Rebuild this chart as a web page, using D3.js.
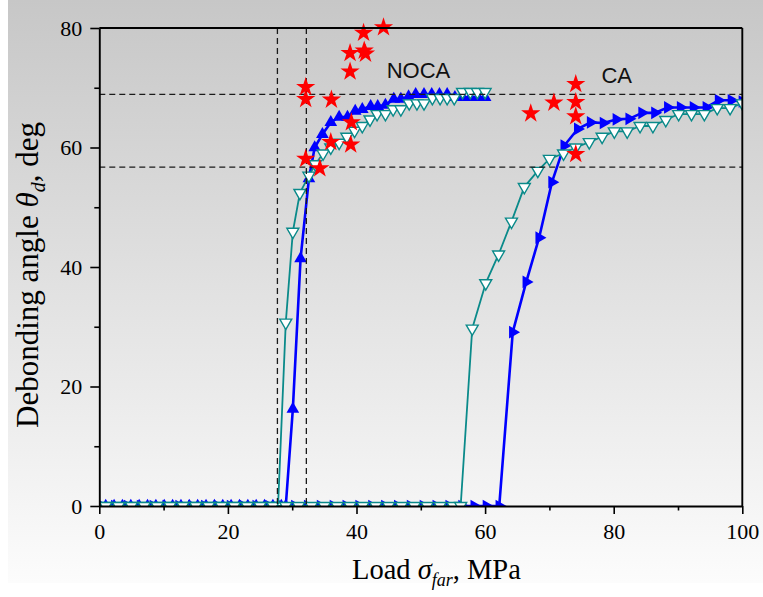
<!DOCTYPE html>
<html>
<head>
<meta charset="utf-8">
<script src="https://cdn.jsdelivr.net/npm/d3@7"></script>
<style>
  html, body { margin: 0; padding: 0; background: #ffffff; }
  svg { display: block; }
</style>
</head>
<body>
<svg id="chart" width="763" height="597"></svg>
<script>
// ---- Axis ticks ----
const xTicks = [0, 20, 40, 60, 80, 100];
const xMinorTicks = [10, 30, 50, 70, 90];
const yTicks = [0, 20, 40, 60, 80];
const yMinorTicks = [10, 30, 50, 70];

// ---- NOCA: blue curve, filled up-triangles ----
const nocaBlueX = [1.0, 2.3, 3.6, 4.9, 6.2, 7.5, 8.8, 10.1, 11.4, 12.7, 14.0, 15.3, 16.6, 17.9, 19.2, 20.5, 21.8, 23.1, 24.4, 25.7, 27.0, 28.3, 29.0,
  30.1, 31.3, 32.6, 33.5, 34.7, 36.0, 37.3, 38.6, 39.8, 40.9, 42.2, 43.3, 44.5, 45.8, 46.9, 48.1, 49.2, 50.5, 51.7, 52.9, 54.1, 55.3, 56.5, 57.7, 58.9, 60.0];
const nocaBlueY = [0, 0, 0, 0, 0, 0, 0, 0, 0, 0, 0, 0, 0, 0, 0, 0, 0, 0, 0, 0, 0, 0, 0,
  16.2, 41.4, 54.8, 60.0, 62.2, 64.2, 65.1, 65.1, 66.1, 66.4, 66.9, 66.9, 67.1, 68.1, 68.1, 68.5, 68.9, 68.9, 68.9, 68.9, 68.9, 68.4, 68.4, 68.4, 68.4, 68.4];

// ---- NOCA: teal curve, open down-triangles ----
const nocaTealX = [1, 3, 5, 7, 9, 11, 13, 15, 17, 19, 21, 23, 25, 27, 27.8,
  29.0, 30.1, 31.2, 32.6, 33.6, 34.8, 36.0, 37.3, 38.5, 39.7, 40.9, 42.1, 43.2, 44.5, 45.7, 46.9, 48.2, 49.4, 50.5, 51.8, 53.0, 54.1, 55.2, 56.5, 57.7, 58.8, 60.0];
const nocaTealY = [0, 0, 0, 0, 0, 0, 0, 0, 0, 0, 0, 0, 0, 0, 0,
  30.7, 45.9, 52.4, 55.3, 57.2, 59.0, 60.0, 60.8, 61.8, 62.8, 63.6, 64.7, 65.6, 65.6, 66.4, 66.4, 67.4, 67.4, 67.4, 68.3, 68.3, 68.3, 68.3, 69.3, 69.3, 69.3, 69.3];

// ---- CA: blue curve, filled right-triangles ----
const caBlueX = [0.4, 2.4, 4.4, 6.4, 8.4, 10.4, 12.4, 14.4, 16.4, 18.4, 20.4, 22.4, 24.4, 26.4, 28.4, 30.4, 32.4, 34.4, 36.4, 38.4, 40.4, 42.4, 44.4, 46.4, 48.4, 50.4, 52.4, 54.4, 56.4, 58.3, 60.2, 62.2,
  64.3, 66.4, 68.4, 70.4, 72.3, 74.4, 76.4, 78.4, 80.4, 82.4, 84.4, 86.4, 88.4, 90.4, 92.4, 94.4, 96.3, 98.3, 100.0];
const caBlueY = [0, 0, 0, 0, 0, 0, 0, 0, 0, 0, 0, 0, 0, 0, 0, 0, 0, 0, 0, 0, 0, 0, 0, 0, 0, 0, 0, 0, 0, 0, 0, 0,
  29.1, 37.5, 44.9, 54.2, 60.3, 63.1, 64.2, 64.1, 64.7, 64.8, 65.8, 65.8, 66.7, 66.7, 66.7, 66.7, 67.9, 67.9, 67.7];

// ---- CA: teal curve, open down-triangles ----
const caTealX = [1, 3, 5, 7, 9, 11, 13, 15, 17, 19, 21, 23, 25, 27, 29, 31, 33, 35, 37, 39, 41, 43, 45, 47, 49, 51, 53, 55, 56.2,
  58.0, 60.1, 62.1, 64.1, 66.1, 68.2, 70.0, 72.2, 74.1, 76.2, 78.2, 80.1, 82.1, 84.1, 86.1, 88.1, 90.1, 92.1, 94.1, 96.1, 98.1, 100.0];
const caTealY = [0, 0, 0, 0, 0, 0, 0, 0, 0, 0, 0, 0, 0, 0, 0, 0, 0, 0, 0, 0, 0, 0, 0, 0, 0, 0, 0, 0, 0,
  29.7, 37.3, 42.1, 47.6, 53.4, 56.1, 58.1, 59.0, 60.0, 60.9, 61.8, 62.7, 62.7, 63.6, 63.6, 64.6, 65.6, 65.6, 65.6, 66.6, 66.6, 67.4];

// ---- Experimental points (stars) ----
const expNocaX = [32.1, 32.1, 36.1, 32.1, 34.3, 36.0, 39.1, 39.2, 39.0, 39.0, 41.1, 41.2, 41.4, 44.2];
const expNocaY = [70.1, 68.1, 68.0, 58.1, 56.5, 60.9, 60.5, 64.2, 72.7, 75.8, 79.2, 76.2, 75.7, 80.1];
const expCaX = [67.1, 70.7, 74.1, 74.1, 74.1, 74.1];
const expCaY = [65.7, 67.5, 70.6, 67.6, 65.2, 58.9];

// ---- Reference levels (dashed) ----
const refLoads = [27.7, 32.2];
const refAngles = [68.9, 56.7];

// ---- Curve labels ----
const curveLabels = ["NOCA", "CA"];
const curveLabelX = [44.7, 78.1];
const curveLabelY = [71.6, 70.8];

// ---------------------------------------------------------------
const W = 763, H = 597;
const margin = { left: 99.3, top: 28, right: W - 742.3, bottom: H - 506 };
const iw = W - margin.left - margin.right;
const ih = H - margin.top - margin.bottom;

const svg = d3.select("#chart");
const defs = svg.append("defs");

// page background: grey at the top fading to near white
const grad = defs.append("linearGradient").attr("id", "bg").attr("x1", 0).attr("y1", 0).attr("x2", 0).attr("y2", 1);
grad.append("stop").attr("offset", "0%").attr("stop-color", "#c7c7c7");
grad.append("stop").attr("offset", "100%").attr("stop-color", "#fcfcfc");
svg.append("rect").attr("x", 8).attr("y", 0).attr("width", W - 8).attr("height", 583).attr("fill", "url(#bg)");

defs.append("clipPath").attr("id", "plotClip")
  .append("rect").attr("x", 0).attr("y", 0).attr("width", iw).attr("height", ih);

const x = d3.scaleLinear().domain([0, 100]).range([0, iw]);
const y = d3.scaleLinear().domain([0, 80]).range([ih, 0]);

const g = svg.append("g").attr("transform", `translate(${margin.left},${margin.top})`);

const zip = (xs, ys) => xs.map((v, i) => [v, ys[i]]);
const line = d3.line().x(d => x(d[0])).y(d => y(d[1]));

const plot = g.append("g").attr("clip-path", "url(#plotClip)");

function drawSeries(xs, ys, opts) {
  const data = zip(xs, ys);
  plot.append("path").datum(data)
    .attr("fill", "none").attr("stroke", opts.color).attr("stroke-width", opts.width)
    .attr("stroke-linejoin", "round").attr("d", line);
  plot.append("g").selectAll("path").data(data).join("path")
    .attr("d", d3.symbol(d3.symbolTriangle, opts.size)())
    .attr("transform", d => `translate(${x(d[0])},${y(d[1])}) rotate(${opts.rotate})`)
    .attr("fill", opts.fill).attr("stroke", opts.stroke).attr("stroke-width", opts.strokeWidth);
}

const BLUE = "#0000ff", TEAL = "#0a8a8a";

drawSeries(nocaBlueX, nocaBlueY, { color: BLUE, width: 2.6, size: 70, rotate: 0, fill: BLUE, stroke: "none", strokeWidth: 0 });
drawSeries(caBlueX, caBlueY, { color: BLUE, width: 2.6, size: 70, rotate: 90, fill: BLUE, stroke: "none", strokeWidth: 0 });
drawSeries(nocaTealX, nocaTealY, { color: TEAL, width: 1.8, size: 62, rotate: 180, fill: "#ffffff", stroke: TEAL, strokeWidth: 1.4 });
drawSeries(caTealX, caTealY, { color: TEAL, width: 1.8, size: 62, rotate: 180, fill: "#ffffff", stroke: TEAL, strokeWidth: 1.4 });

// dashed reference lines
const dash = g.append("g").attr("stroke", "#1a1a1a").attr("stroke-width", 1.3).attr("stroke-dasharray", "6,4");
dash.selectAll("line.v").data(refLoads).join("line").attr("class", "v")
  .attr("x1", d => x(d)).attr("x2", d => x(d)).attr("y1", y(80)).attr("y2", y(0));
dash.selectAll("line.h").data(refAngles).join("line").attr("class", "h")
  .attr("x1", x(0)).attr("x2", x(100)).attr("y1", d => y(d)).attr("y2", d => y(d));

// experimental stars
const star = d3.symbol(d3.symbolStar, 115)();
g.append("g").selectAll("path").data(zip(expNocaX, expNocaY).concat(zip(expCaX, expCaY))).join("path")
  .attr("d", star).attr("fill", "#ff0000")
  .attr("transform", d => `translate(${x(d[0])},${y(d[1])})`);

// curve labels
g.append("g").selectAll("text").data(curveLabels).join("text")
  .attr("x", (d, i) => x(curveLabelX[i])).attr("y", (d, i) => y(curveLabelY[i]))
  .attr("font-family", "'Liberation Sans', Arial, sans-serif").attr("font-size", 22)
  .attr("fill", "#111").text(d => d);

// ---- Axes ----
const tickFont = "'Liberation Serif', 'Times New Roman', serif";
g.append("g").attr("transform", `translate(0,${ih})`)
  .call(d3.axisBottom(x).tickValues(xTicks).tickSize(8).tickSizeOuter(0).tickPadding(9).tickFormat(d3.format("d")));
g.append("g").attr("transform", `translate(0,${ih})`)
  .call(d3.axisBottom(x).tickValues(xMinorTicks).tickSize(4.5).tickSizeOuter(0).tickFormat(""))
  .call(s => s.select(".domain").remove());
g.append("g")
  .call(d3.axisLeft(y).tickValues(yTicks).tickSize(9).tickSizeOuter(0).tickPadding(8).tickFormat(d3.format("d")));
g.append("g")
  .call(d3.axisLeft(y).tickValues(yMinorTicks).tickSize(5).tickSizeOuter(0).tickFormat(""))
  .call(s => s.select(".domain").remove());

g.selectAll(".tick line").attr("stroke", "#000").attr("stroke-width", 1.6);
g.selectAll(".domain").attr("stroke", "#000").attr("stroke-width", 1.9);
g.selectAll(".tick text").attr("font-family", tickFont).attr("font-size", 22).attr("fill", "#000");

// frame top and right
g.append("line").attr("x1", 0).attr("x2", iw).attr("y1", 0).attr("y2", 0).attr("stroke", "#000").attr("stroke-width", 1.9);
g.append("line").attr("x1", iw).attr("x2", iw).attr("y1", 0).attr("y2", ih).attr("stroke", "#000").attr("stroke-width", 1.9);

// ---- Axis titles ----
const xt = svg.append("text").attr("x", 352).attr("y", 579)
  .attr("font-family", tickFont).attr("font-size", 28.5).attr("fill", "#000");
xt.append("tspan").text("Load ");
xt.append("tspan").attr("font-style", "italic").text("σ");
xt.append("tspan").attr("font-style", "italic").attr("font-size", 18).attr("dy", 7).text("far");
xt.append("tspan").attr("dy", -7).text(", MPa");

const yt = svg.append("text").attr("transform", "translate(38,275) rotate(-90)")
  .attr("text-anchor", "middle")
  .attr("font-family", tickFont).attr("font-size", 31).attr("fill", "#000");
yt.append("tspan").text("Debonding angle ");
yt.append("tspan").attr("font-style", "italic").text("θ");
yt.append("tspan").attr("font-style", "italic").attr("font-size", 20).attr("dy", 7).text("d");
yt.append("tspan").attr("dy", -7).text(", deg");
</script>
</body>
</html>
